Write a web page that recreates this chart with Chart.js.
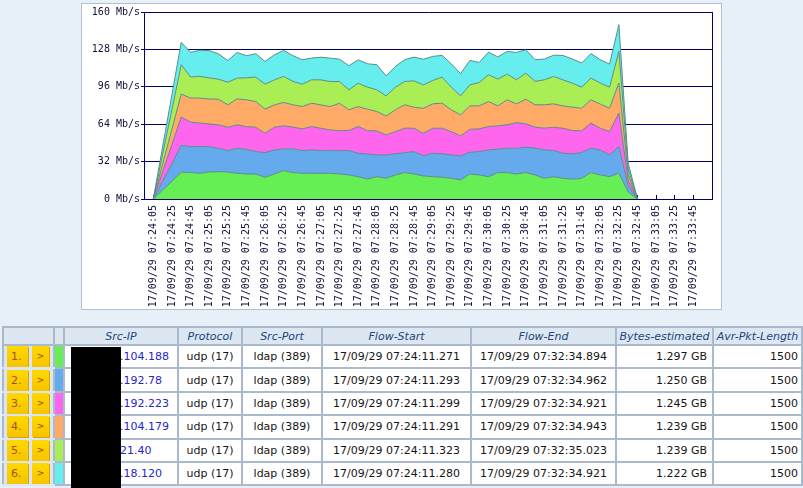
<!DOCTYPE html>
<html>
<head>
<meta charset="utf-8">
<script src="https://cdn.jsdelivr.net/npm/chart.js"></script>
<style>
  html, body { margin: 0; padding: 0; }
  body {
    width: 803px; height: 488px; overflow: hidden; position: relative;
    background: #e7eff9; font-family: "DejaVu Sans", Verdana, sans-serif;
  }
  #panel {
    position: absolute; left: 81px; top: 3px; width: 639px; height: 305px;
    background: #fff; border: 1px solid #b4c0d0;
  }
  #flows {
    position: absolute; left: 2px; top: 326px; width: 799px;
    border-collapse: collapse; table-layout: fixed; font-size: 11px;
  }
  #flows th, #flows td {
    border: 2px solid #aab9cc; padding: 0; white-space: nowrap; overflow: hidden;
  }
  #flows th {
    height: 16px; background: #dde7f2; color: #22467c;
    font-weight: normal; font-style: italic; text-align: center;
  }
  #flows td { height: 21.4px; background: #fff; color: #151515; text-align: center; }
  #flows td.btns { background: #dce6f1; border-top-color: #dce6f1; border-bottom-color: #dce6f1; text-align: left; }
  #flows td.ip { text-align: left; padding-left: 55px; color: #2626c8; }
  #flows td.num { text-align: right; padding-right: 5px; }
  #flows td.len { text-align: right; padding-right: 3px; }
  .btn {
    display: inline-block; vertical-align: middle; height: 21px; line-height: 21px;
    background: linear-gradient(#ffd800, #f6c400); box-shadow: 1px 1px 0 #d9a400;
  }
  .rank { width: 21px; margin-left: 3px; padding-left: 4px; box-sizing: border-box; color: #a0561c; }
  .go { width: 17px; margin-left: 4px; text-align: center; color: #8a4a12; font-size: 9px; }
  #redact { position: absolute; left: 71px; top: 347px; width: 50px; height: 141px; background: #000; }
</style>
</head>
<body>
<div id="panel"><canvas id="flowChart" width="639" height="305"></canvas></div>
<table id="flows"></table>
<div id="redact"></div>
<script>
// seconds after 17/09/29 07:24:05, one sample every 10 s
const sampleOffsets = [0, 10, 20, 30, 40, 50, 60, 70, 80, 90, 100, 110, 120, 130, 140, 150, 160, 170,
  180, 190, 200, 210, 220, 230, 240, 250, 260, 270, 280, 290, 300, 310, 320, 330, 340, 350, 360, 370,
  380, 390, 400, 410, 420, 430, 440, 450, 460, 470, 480, 490, 500, 510, 520];

const tickLabels = [
  "17/09/29 07:24:05", "17/09/29 07:24:25", "17/09/29 07:24:45", "17/09/29 07:25:05",
  "17/09/29 07:25:25", "17/09/29 07:25:45", "17/09/29 07:26:05", "17/09/29 07:26:25",
  "17/09/29 07:26:45", "17/09/29 07:27:05", "17/09/29 07:27:25", "17/09/29 07:27:45",
  "17/09/29 07:28:05", "17/09/29 07:28:25", "17/09/29 07:28:45", "17/09/29 07:29:05",
  "17/09/29 07:29:25", "17/09/29 07:29:45", "17/09/29 07:30:05", "17/09/29 07:30:25",
  "17/09/29 07:30:45", "17/09/29 07:31:05", "17/09/29 07:31:25", "17/09/29 07:31:45",
  "17/09/29 07:32:05", "17/09/29 07:32:25", "17/09/29 07:32:45", "17/09/29 07:33:05",
  "17/09/29 07:33:25", "17/09/29 07:33:45"
];

// Mb/s per flow (stacked, bottom first)
const flow1 = [0, 7.6, 15.2, 22.9, 22.6, 22.0, 23.1, 23.4, 23.1, 22.0, 21.4, 21.4, 18.6, 21.4, 24.3, 22.6, 22.0, 22.0,
  22.0, 22.0, 21.4, 20.6, 19.1, 17.1, 19.1, 17.7, 20.6, 22.6, 21.4, 19.7, 19.1, 18.6, 17.7, 16.3, 21.4, 20.6, 19.1,
  22.6, 22.6, 21.4, 22.6, 20.6, 17.7, 19.1, 17.7, 16.9, 17.7, 22.6, 20.6, 19.1, 22.0, 6.0, 0];
const flow2 = [0, 7.6, 15.2, 22.9, 22.3, 22.9, 21.7, 20.0, 18.3, 21.4, 21.1, 19.1, 21.1, 20.6, 18.6, 20.3, 19.4, 20.0,
  19.4, 19.4, 20.0, 20.9, 20.0, 21.4, 18.6, 20.0, 18.0, 17.1, 19.1, 17.4, 20.0, 20.0, 20.0, 20.6, 18.6, 20.0, 22.9,
  20.0, 20.9, 22.0, 21.7, 22.9, 24.3, 22.3, 21.4, 21.7, 22.0, 20.9, 21.4, 18.6, 22.9, 5.1, 0];
const flow3 = [0, 8.1, 16.2, 24.3, 20.9, 20.0, 19.4, 20.0, 20.0, 20.0, 19.4, 20.9, 16.6, 19.4, 19.7, 18.6, 18.6, 20.0,
  19.1, 17.7, 17.1, 17.1, 22.9, 20.0, 20.6, 17.1, 19.1, 20.9, 20.0, 19.1, 21.4, 22.0, 20.0, 17.1, 19.7, 19.4, 20.0,
  20.0, 20.0, 22.0, 20.0, 18.0, 18.6, 20.0, 21.4, 20.0, 18.6, 21.4, 18.6, 20.0, 28.6, 4.9, 0];
const flow4 = [0, 6.6, 13.1, 19.7, 20.6, 21.4, 21.4, 22.0, 19.1, 22.3, 22.9, 22.0, 20.6, 19.1, 20.0, 19.1, 19.1, 20.0,
  20.0, 20.0, 23.4, 17.7, 17.1, 18.3, 16.6, 16.3, 18.6, 20.0, 18.0, 21.4, 20.9, 21.4, 18.6, 18.0, 20.0, 19.7, 21.4,
  17.1, 21.4, 16.0, 21.1, 19.1, 20.0, 20.0, 19.1, 20.0, 19.4, 20.0, 20.6, 20.0, 25.7, 4.9, 0];
const flow5 = [0, 8.4, 16.8, 25.1, 18.0, 18.6, 18.0, 17.1, 19.4, 17.7, 18.9, 20.9, 21.4, 21.4, 22.3, 20.0, 19.1, 20.0,
  21.4, 21.4, 18.6, 17.1, 20.0, 18.9, 18.6, 17.1, 19.4, 20.0, 22.6, 20.0, 20.0, 22.3, 19.4, 16.3, 18.0, 20.0, 22.9,
  22.9, 22.0, 20.6, 22.3, 20.0, 21.4, 23.4, 22.3, 20.6, 18.0, 18.6, 18.0, 18.0, 27.1, 4.9, 0];
const flow6 = [0, 6.4, 12.8, 19.1, 21.1, 22.3, 23.4, 21.7, 18.6, 22.0, 18.9, 20.0, 19.4, 21.4, 22.3, 22.0, 20.9, 18.6,
  19.4, 20.0, 19.1, 20.6, 20.0, 20.0, 21.4, 17.1, 17.7, 18.6, 20.3, 22.0, 20.6, 18.6, 20.0, 18.9, 20.9, 17.1, 19.4,
  18.9, 19.4, 23.4, 20.0, 18.6, 17.7, 18.3, 20.9, 20.6, 20.6, 20.9, 20.0, 19.7, 22.9, 4.9, 0];

// table rows
const ranks = ["1.", "2.", "3.", "4.", "5.", "6."];
const srcIps = [".104.188", ".192.78", ".192.223", ".104.179", "21.40", ".18.120"];
const protocols = ["udp (17)", "udp (17)", "udp (17)", "udp (17)", "udp (17)", "udp (17)"];
const srcPorts = ["ldap (389)", "ldap (389)", "ldap (389)", "ldap (389)", "ldap (389)", "ldap (389)"];
const flowStarts = ["17/09/29 07:24:11.271", "17/09/29 07:24:11.293", "17/09/29 07:24:11.299",
  "17/09/29 07:24:11.291", "17/09/29 07:24:11.323", "17/09/29 07:24:11.280"];
const flowEnds = ["17/09/29 07:32:34.894", "17/09/29 07:32:34.962", "17/09/29 07:32:34.921",
  "17/09/29 07:32:34.943", "17/09/29 07:32:35.023", "17/09/29 07:32:34.921"];
const bytesEstimated = ["1.297 GB", "1.250 GB", "1.245 GB", "1.239 GB", "1.239 GB", "1.222 GB"];
const avgPktLength = ["1500", "1500", "1500", "1500", "1500", "1500"];
const headers = ["Src-IP", "Protocol", "Src-Port", "Flow-Start", "Flow-End", "Bytes-estimated", "Avr-Pkt-Length"];

const flowColors = ["#66ee55", "#66aaee", "#ff66ee", "#ffaa66", "#aaee55", "#66eeee"];
const edgeColor = "#5b8c8c";
const gridInk = "#000066";
const axisInk = "#10103a";

// table
const colWidths = [51, 10, 114, 64, 80, 149, 145, 97, 89];
let html = "<colgroup>" + colWidths.map(w => `<col style="width:${w}px">`).join("") + "</colgroup>";
html += "<tr><th></th><th></th>" + headers.map(h => `<th>${h}</th>`).join("") + "</tr>";
ranks.forEach((r, i) => {
  html += "<tr>" +
    `<td class="btns"><span class="btn rank">${r}</span><span class="btn go">&gt;</span></td>` +
    `<td style="background:${flowColors[i]}"></td>` +
    `<td class="ip">${srcIps[i]}</td>` +
    `<td>${protocols[i]}</td>` +
    `<td>${srcPorts[i]}</td>` +
    `<td>${flowStarts[i]}</td>` +
    `<td>${flowEnds[i]}</td>` +
    `<td class="num">${bytesEstimated[i]}</td>` +
    `<td class="len">${avgPktLength[i]}</td>` +
    "</tr>";
});
document.getElementById("flows").innerHTML = html;

// chart
const flows = [flow1, flow2, flow3, flow4, flow5, flow6];
const monoFont = { family: "'DejaVu Sans Mono', monospace", size: 10 };

new Chart(document.getElementById("flowChart"), {
  type: "line",
  data: {
    labels: sampleOffsets,
    datasets: flows.map((values, i) => ({
      data: values,
      backgroundColor: flowColors[i],
      borderColor: edgeColor,
      borderWidth: 1,
      fill: i === 0 ? "origin" : "-1",
      pointRadius: 0,
      tension: 0,
    })),
  },
  options: {
    responsive: false,
    animation: false,
    layout: { padding: { top: 8, right: 9, left: 0, bottom: 0 } },
    plugins: { legend: { display: false }, tooltip: { enabled: false } },
    scales: {
      x: {
        type: "linear",
        min: -10,
        max: 600,
        afterFit: (scale) => { scale.height = 110; },
        afterBuildTicks: (scale) => {
          scale.ticks = scale.ticks.filter((t) => t.value >= 0 && t.value <= 580);
        },
        ticks: {
          stepSize: 20,
          includeBounds: false,
          autoSkip: false,
          minRotation: 90,
          maxRotation: 90,
          padding: 10,
          color: axisInk,
          font: monoFont,
          callback: (value) => tickLabels[value / 20],
        },
        grid: { drawOnChartArea: false, drawTicks: true, tickLength: -4, color: gridInk },
        border: { color: gridInk },
      },
      y: {
        stacked: true,
        min: 0,
        max: 160,
        afterFit: (scale) => { scale.width = 62; },
        ticks: {
          stepSize: 32,
          padding: 1,
          color: axisInk,
          font: monoFont,
          callback: (value) => value + " Mb/s",
        },
        grid: { color: gridInk, tickLength: 3 },
        border: { color: gridInk },
      },
      // right-hand frame line of the plot
      y2: {
        position: "right",
        afterFit: (scale) => { scale.width = 0; },
        ticks: { display: false },
        grid: { drawOnChartArea: false, drawTicks: false },
        border: { display: true, color: gridInk },
      },
    },
  },
});
</script>
</body>
</html>
